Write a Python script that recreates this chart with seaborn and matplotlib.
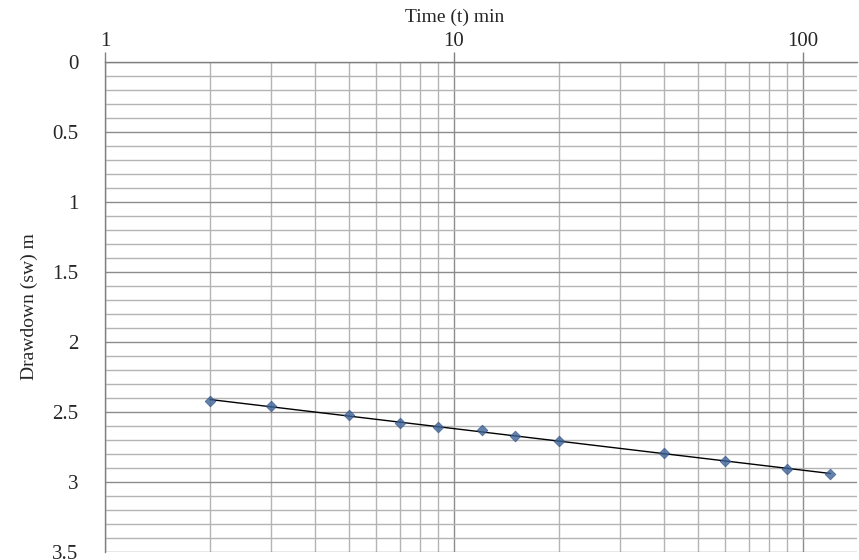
import numpy as np
import pandas as pd
import matplotlib
matplotlib.use("Agg")
import matplotlib.pyplot as plt
import seaborn as sns
from matplotlib.ticker import LogLocator, MultipleLocator, FixedLocator, NullFormatter

# time (min) and drawdown (m)
time_min = [2, 3, 5, 7, 9, 12, 15, 20, 40, 60, 90, 120]
drawdown = [2.42, 2.46, 2.52, 2.58, 2.61, 2.63, 2.67, 2.71, 2.79, 2.85, 2.91, 2.94]

df = pd.DataFrame({"t": time_min, "sw": drawdown})

sns.set_style("white")
plt.rcParams["font.family"] = ["Liberation Serif", "DejaVu Serif"]

fig = plt.figure(figsize=(8.59, 5.60), dpi=100)
ax = fig.add_axes([105 / 859, 1 - 552 / 560, (857 - 105) / 859, (552 - 62) / 560])

sns.regplot(data=df, x="t", y="sw", logx=True, ci=None, ax=ax, marker="D",
            scatter_kws=dict(s=30, color="#3d6398", edgecolor="#2f5185",
                             linewidths=0.5, zorder=4),
            line_kws=dict(color="black", lw=1.0, zorder=3))

ax.set_xscale("log")
ax.set_xlim(1, 143)
ax.set_ylim(3.5, 0)

ax.xaxis.set_major_locator(FixedLocator([1, 10, 100]))
ax.xaxis.set_major_formatter(matplotlib.ticker.FuncFormatter(lambda v, p: f"{v:g}"))
ax.xaxis.set_minor_locator(LogLocator(base=10, subs=np.arange(2, 10)))
ax.xaxis.set_minor_formatter(NullFormatter())
ax.yaxis.set_major_locator(MultipleLocator(0.5))
ax.yaxis.set_minor_locator(MultipleLocator(0.1))
ax.yaxis.set_major_formatter(matplotlib.ticker.FuncFormatter(lambda v, p: f"{v:g}"))

ax.xaxis.tick_top()
ax.xaxis.set_label_position("top")
ax.tick_params(axis="both", which="major", direction="out", length=7, width=1,
               color="#808080", labelsize=15, pad=3)
ax.tick_params(axis="both", which="minor", length=0)
ax.tick_params(axis="x", pad=1)
ax.tick_params(axis="y", pad=12)

ax.grid(True, which="major", color="#8c8c8c", lw=1.0)
ax.grid(True, which="minor", color="#b4b4b4", lw=1.0)
ax.set_axisbelow(True)

for side in ["bottom", "right"]:
    ax.spines[side].set_visible(False)
for side in ["top", "left"]:
    ax.spines[side].set_color("#808080")
    ax.spines[side].set_linewidth(1.0)

ax.set_xlabel("Time (t) min", fontsize=14)
ax.xaxis.set_label_coords((455 - 105) / (857 - 105), 1 + 40 / 490)
ax.set_ylabel("Drawdown (sw) m", fontsize=14, labelpad=10)

fig.savefig("out.png", dpi=100)
